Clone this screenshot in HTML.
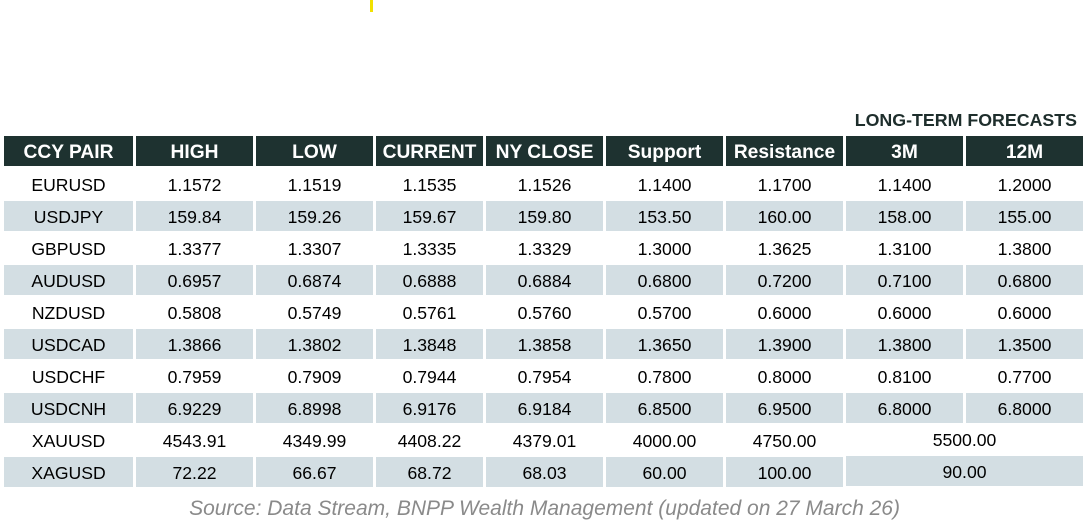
<!DOCTYPE html>
<html><head><meta charset="utf-8"><style>
body{margin:0;width:1089px;height:522px;background:#fff;position:relative;overflow:hidden;font-family:"Liberation Sans",Arial,sans-serif}
.c{position:absolute;display:flex;align-items:center;justify-content:center;font-size:17.6px;color:#000;padding-top:2px;box-sizing:border-box}
.h{background:#1e3230;color:#fff;font-weight:bold;font-size:19.2px;padding-top:4px}
.g{background:#d3dee3}
</style></head><body>
<div style="position:absolute;left:370px;top:0;width:3px;height:12px;background:#f2e100"></div>
<div style="position:absolute;right:12px;top:110px;font-weight:bold;font-size:17.8px;color:#1e2e2c">LONG-TERM FORECASTS</div>
<div id="t"></div>
<div style="position:absolute;left:0;width:1089px;top:497px;text-align:center;font-style:italic;font-size:21px;color:#8a8a8a">Source: Data Stream, BNPP Wealth Management (updated on 27 March 26)</div>
<script>
var xs=[[4,133],[136,253],[256,373],[376,483],[486,603],[606,723],[726,843],[846,963],[966,1083]];
var hd=["CCY PAIR","HIGH","LOW","CURRENT","NY CLOSE","Support","Resistance","3M","12M"];
var rows=[
["EURUSD","1.1572","1.1519","1.1535","1.1526","1.1400","1.1700","1.1400","1.2000"],
["USDJPY","159.84","159.26","159.67","159.80","153.50","160.00","158.00","155.00"],
["GBPUSD","1.3377","1.3307","1.3335","1.3329","1.3000","1.3625","1.3100","1.3800"],
["AUDUSD","0.6957","0.6874","0.6888","0.6884","0.6800","0.7200","0.7100","0.6800"],
["NZDUSD","0.5808","0.5749","0.5761","0.5760","0.5700","0.6000","0.6000","0.6000"],
["USDCAD","1.3866","1.3802","1.3848","1.3858","1.3650","1.3900","1.3800","1.3500"],
["USDCHF","0.7959","0.7909","0.7944","0.7954","0.7800","0.8000","0.8100","0.7700"],
["USDCNH","6.9229","6.8998","6.9176","6.9184","6.8500","6.9500","6.8000","6.8000"],
["XAUUSD","4543.91","4349.99","4408.22","4379.01","4000.00","4750.00","5500.00"],
["XAGUSD","72.22","66.67","68.72","68.03","60.00","100.00","90.00"]];
var h='';
function cell(x0,x1,y,hh,cls,t){h+='<div class="c '+cls+'" style="left:'+x0+'px;top:'+y+'px;width:'+(x1-x0)+'px;height:'+hh+'px">'+t+'</div>';}
for(var i=0;i<9;i++)cell(xs[i][0],xs[i][1],136,30,'h',hd[i]);
for(var r=0;r<10;r++){var y=169+r*32,cls=r%2?'g':'';var row=rows[r];
 if(row.length==9){for(var i=0;i<9;i++)cell(xs[i][0],xs[i][1],y,30,cls,row[i]);}
 else{for(var i=0;i<7;i++)cell(xs[i][0],xs[i][1],y,30,cls,row[i]);cell(846,1083,y-1,30,cls,row[7]);}
}
document.getElementById('t').innerHTML=h;
</script>
</body></html>
